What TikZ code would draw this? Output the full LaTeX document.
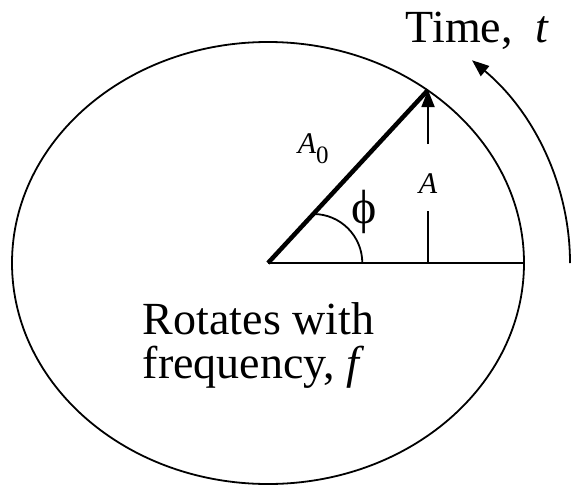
\documentclass[tikz,border=0pt]{standalone}
\usepackage{fontspec}
\setmainfont{Liberation Serif}
\usetikzlibrary{arrows.meta}

\begin{document}
\begin{tikzpicture}[
  x=1pt, y=-1pt,
  line width=1.8pt,
  lbl/.style={font=\fontsize{46}{44}\selectfont, inner sep=0pt, anchor=base west},
  sym/.style={font=\fontsize{30}{32}\selectfont\itshape, inner sep=0pt},
  tip/.style={-{Triangle[length=17pt, width=13pt]}},
  vector/.style={line width=4.5pt},
]
\useasboundingbox (0,0) rectangle (572,487);

% points of the phasor
\coordinate (O) at (268,263);
\coordinate (P) at (428,90);
\coordinate (F) at (428,263);
\coordinate (E) at (524,263);
\coordinate (Q) at (313.3,214);
\coordinate (S) at (570,263);

\draw (O) ellipse [x radius=256, y radius=221];

\node[lbl] (time) at (405,43) {Time,\ \ \textit{t}};
\node[lbl] (rotates) at (142,334) {Rotates with};
\node[lbl] (freq) at (142,378) {frequency, \textit{f}};

\node[sym, anchor=base west] (amp0) at (297,153)
  {A\raisebox{-10pt}{\upshape\fontsize{25}{25}\selectfont 0}};
\node[sym, text height=48pt, text depth=17pt] (amp) at (428,177.5) {A};
\node[font=\fontsize{48}{48}\selectfont, inner sep=0pt] (phi) at (364,212) {ϕ};

\draw[vector] (O) -- (P);
\draw (O) -- (E);
\draw (F) -- (amp);
\draw[tip] (amp) -- (P);
\draw (Q) arc[start angle=-90, end angle=0, radius=49];
\draw[tip] (S) arc[start angle=0, end angle=-47.5, x radius=302, y radius=275];
\end{tikzpicture}
\end{document}
